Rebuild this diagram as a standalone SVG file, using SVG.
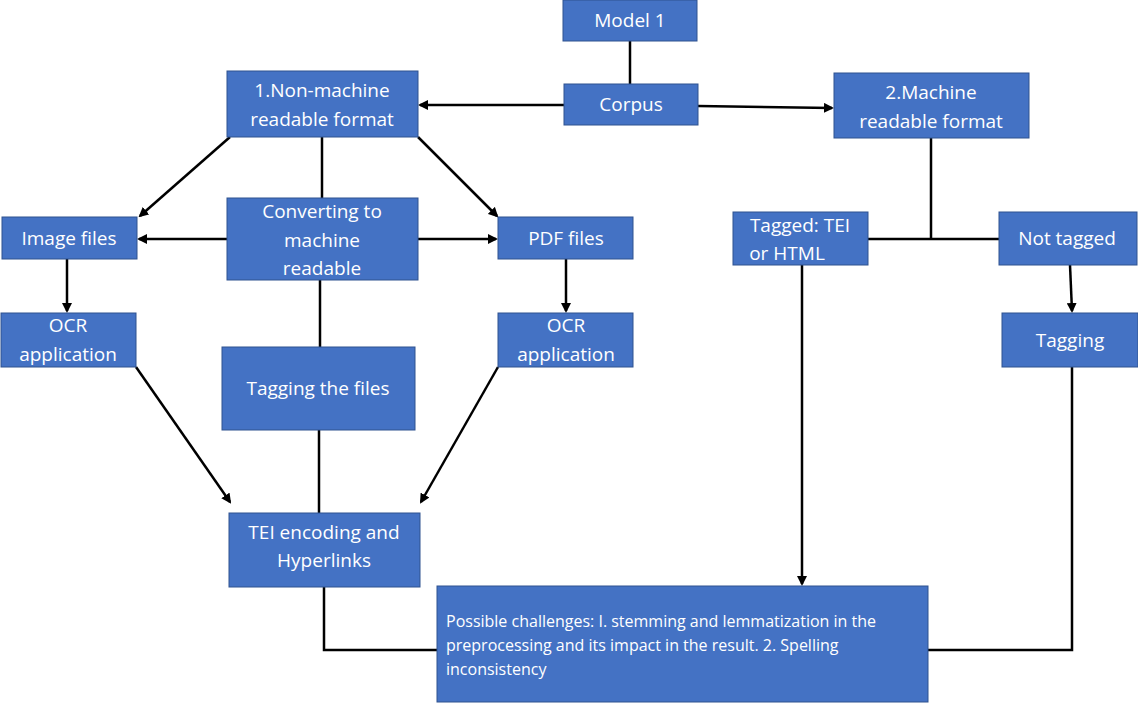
<svg xmlns="http://www.w3.org/2000/svg" width="1138" height="703" viewBox="0 0 1138 703">
<style>
.b{fill:#4472C4;stroke:#2F528F;stroke-width:1}
.t{fill:#fff;font-family:"Open Sans","Liberation Sans",sans-serif;font-size:19px;text-anchor:middle}
.s{fill:#fff;font-family:"Open Sans","Liberation Sans",sans-serif;font-size:16px}
.c{stroke:#000;stroke-width:2.5;fill:none}
.a{marker-end:url(#m)}
</style>
<defs><marker id="m" markerWidth="10" markerHeight="10" refX="8" refY="5" orient="auto" markerUnits="userSpaceOnUse"><path d="M0,0 L10,5 L0,10 z" fill="#000"/></marker></defs>
<rect width="1138" height="703" fill="#fff"/>
<g id="connectors">
<path class="c" d="M630,41 V84"/>
<path class="c a" d="M564,105 H420"/>
<path class="c a" d="M698,106 L832,108"/>
<path class="c a" d="M230,137 L140,216"/>
<path class="c a" d="M418,137 L497,216"/>
<path class="c" d="M322,137 V198"/>
<path class="c a" d="M227,239 H139"/>
<path class="c a" d="M418,239 H496"/>
<path class="c" d="M320,280 V347"/>
<path class="c a" d="M67,259 V311"/>
<path class="c a" d="M566,259 V311"/>
<path class="c a" d="M136,367 L230,502"/>
<path class="c a" d="M498,367 L421,502"/>
<path class="c" d="M319,430 V513"/>
<path class="c" d="M931,138 V239 M868,239 H999"/>
<path class="c a" d="M802,265 V584"/>
<path class="c a" d="M1070,265 L1072,311"/>
<path class="c" d="M324,587 V650 H437"/>
<path class="c" d="M1072,367 V650 H928"/>
</g>
<g id="model1"><rect class="b" x="563" y="0" width="134" height="41"/><text class="t" x="630" y="27">Model 1</text></g>
<g id="corpus"><rect class="b" x="564" y="84" width="134" height="41"/><text class="t" x="631" y="111">Corpus</text></g>
<g id="nonmachine"><rect class="b" x="227" y="71" width="191" height="66"/><text class="t" x="322" y="97">1.Non-machine</text><text class="t" x="322" y="126">readable format</text></g>
<g id="machine"><rect class="b" x="834" y="73" width="195" height="65"/><text class="t" x="931" y="99">2.Machine</text><text class="t" x="931" y="128">readable format</text></g>
<g id="image"><rect class="b" x="2" y="217" width="135" height="42"/><text class="t" x="69" y="245">Image files</text></g>
<g id="converting"><rect class="b" x="227" y="198" width="191" height="82"/><text class="t" x="322" y="218">Converting to</text><text class="t" x="322" y="247">machine</text><text class="t" x="322" y="275">readable</text></g>
<g id="pdf"><rect class="b" x="498" y="217" width="135" height="42"/><text class="t" x="566" y="245">PDF files</text></g>
<g id="tagged"><rect class="b" x="733" y="212" width="135" height="53"/><text class="t" x="800" y="232">Tagged: TEI</text><text class="t" x="787" y="260">or HTML</text></g>
<g id="nottagged"><rect class="b" x="999" y="212" width="138" height="53"/><text class="t" x="1067" y="245">Not tagged</text></g>
<g id="ocr1"><rect class="b" x="1" y="313" width="135" height="54"/><text class="t" x="68" y="332">OCR</text><text class="t" x="68" y="361">application</text></g>
<g id="taggingfiles"><rect class="b" x="222" y="347" width="193" height="83"/><text class="t" x="318" y="395">Tagging the files</text></g>
<g id="ocr2"><rect class="b" x="498" y="313" width="135" height="54"/><text class="t" x="566" y="332">OCR</text><text class="t" x="566" y="361">application</text></g>
<g id="tagging"><rect class="b" x="1002" y="313" width="136" height="54"/><text class="t" x="1070" y="347">Tagging</text></g>
<g id="tei"><rect class="b" x="229" y="513" width="191" height="74"/><text class="t" x="324" y="539">TEI encoding and</text><text class="t" x="324" y="567">Hyperlinks</text></g>
<g id="challenges"><rect class="b" x="437" y="586" width="491" height="116"/><text class="s" x="446" y="627">Possible challenges: I. stemming and lemmatization in the</text><text class="s" x="446" y="651">preprocessing and its impact in the result. 2. Spelling</text><text class="s" x="446" y="675">inconsistency</text></g>
</svg>
